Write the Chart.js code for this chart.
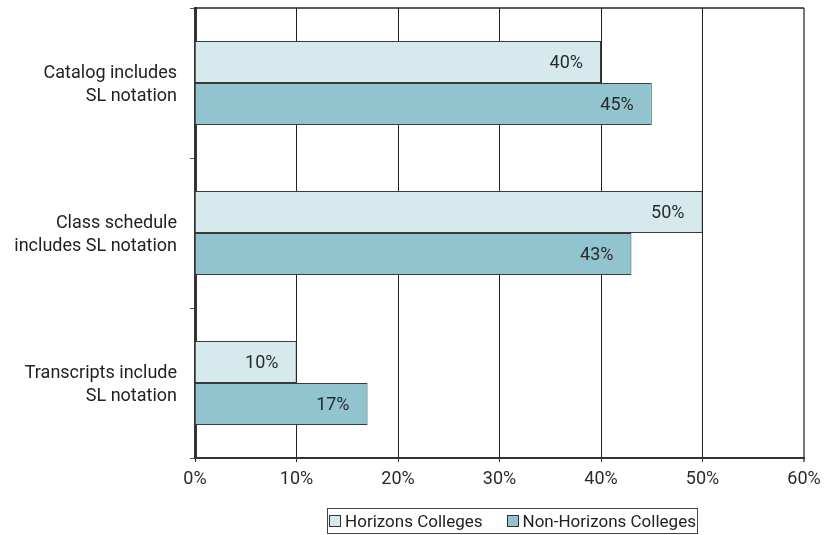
<!DOCTYPE html>
<html>
<head>
<meta charset="utf-8">
<script src="https://cdn.jsdelivr.net/npm/chart.js@4.4.1/dist/chart.umd.min.js"></script>
<style>
  html, body { margin: 0; padding: 0; background: #fff; }
  #wrap { position: relative; width: 825px; height: 535px; }
  #legend {
    position: absolute; left: 327px; top: 508px; width: 369px; height: 24px;
    border: 1px solid #444; display: flex; justify-content: center; align-items: center; gap: 24px;
    font-family: Roboto, sans-serif; font-size: 17px; color: #222;
  }
  #legend span.item { display: flex; align-items: center; }
  #legend span.box { width: 12px; height: 12px; border: 1px solid #333; margin-right: 4px; box-sizing: border-box; }
</style>
</head>
<body>
<div id="wrap">
  <canvas id="chart" width="825" height="535"></canvas>
  <div id="legend"></div>
</div>
<script>
// dati del grafico
const categories = [
  ["Catalog includes", "SL notation"],
  ["Class schedule", "includes SL notation"],
  ["Transcripts include", "SL notation"]
];
const seriesNames = ["Horizons Colleges", "Non-Horizons Colleges"];
const horizons = [40, 50, 10];
const nonHorizons = [45, 43, 17];
const xTicks = [0, 10, 20, 30, 40, 50, 60];
const colors = ["#d6eaee", "#91c4cf"];

const FONT = "Roboto, sans-serif";

// etichette dei valori dentro le barre
const valueLabels = {
  id: "valueLabels",
  afterDatasetsDraw(chart) {
    const ctx = chart.ctx;
    ctx.save();
    ctx.font = "18px " + FONT;
    ctx.fillStyle = "#2a2a2a";
    ctx.textAlign = "right";
    ctx.textBaseline = "middle";
    chart.data.datasets.forEach((ds, i) => {
      chart.getDatasetMeta(i).data.forEach((bar, j) => {
        ctx.fillText(ds.data[j] + "%", bar.x - 18, bar.y + 1);
      });
    });
    ctx.restore();
  }
};

// bordo superiore dell'area
const topBorder = {
  id: "topBorder",
  afterDraw(chart) {
    const a = chart.chartArea;
    const ctx = chart.ctx;
    ctx.save();
    ctx.strokeStyle = "#222";
    ctx.lineWidth = 1.5;
    ctx.beginPath();
    ctx.moveTo(a.left, a.top);
    ctx.lineTo(a.right, a.top);
    ctx.stroke();
    ctx.restore();
  }
};

new Chart(document.getElementById("chart"), {
  type: "bar",
  data: {
    labels: categories,
    datasets: [
      {
        label: seriesNames[0],
        data: horizons,
        backgroundColor: colors[0],
        borderColor: "#3a3a3a",
        borderWidth: 1,
        categoryPercentage: 0.56,
        barPercentage: 1
      },
      {
        label: seriesNames[1],
        data: nonHorizons,
        backgroundColor: colors[1],
        borderColor: "#3a3a3a",
        borderWidth: 1,
        categoryPercentage: 0.56,
        barPercentage: 1
      }
    ]
  },
  options: {
    indexAxis: "y",
    responsive: false,
    animation: false,
    layout: { padding: { top: 8, right: 21, left: 0, bottom: 45 } },
    plugins: {
      legend: { display: false },
      tooltip: { enabled: false }
    },
    scales: {
      x: {
        min: xTicks[0],
        max: xTicks[xTicks.length - 1],
        afterBuildTicks: (scale) => { scale.ticks = xTicks.map(v => ({ value: v })); },
        afterFit: (scale) => { scale.height = 32; scale.paddingLeft = 0; scale.paddingRight = 0; },
        ticks: {
          callback: (v) => v + "%",
          font: { family: FONT, size: 18 },
          color: "#2a2a2a",
          padding: 7
        },
        grid: {
          color: (c) => c.index === xTicks.length - 1 ? "#777" : "#222",
          lineWidth: (c) => c.index === xTicks.length - 1 ? 2 : 1,
          tickLength: 4
        },
        border: { color: "#333", width: 2 }
      },
      y: {
        afterFit: (scale) => { scale.width = 195; scale.paddingTop = 0; scale.paddingBottom = 0; },
        ticks: {
          font: { family: FONT, size: 18, lineHeight: 1.25 },
          color: "#222",
          padding: 13,
          labelOffset: 2
        },
        grid: {
          drawOnChartArea: false,
          offset: true,
          color: "#555",
          tickLength: 5
        },
        border: { color: "#333", width: 3 }
      }
    }
  },
  plugins: [valueLabels, topBorder]
});

// legenda in basso
const legend = document.getElementById("legend");
seriesNames.forEach((name, i) => {
  const item = document.createElement("span");
  item.className = "item";
  item.innerHTML = `<span class="box" style="background:${colors[i]}"></span>${name}`;
  legend.appendChild(item);
});
</script>
</body>
</html>
